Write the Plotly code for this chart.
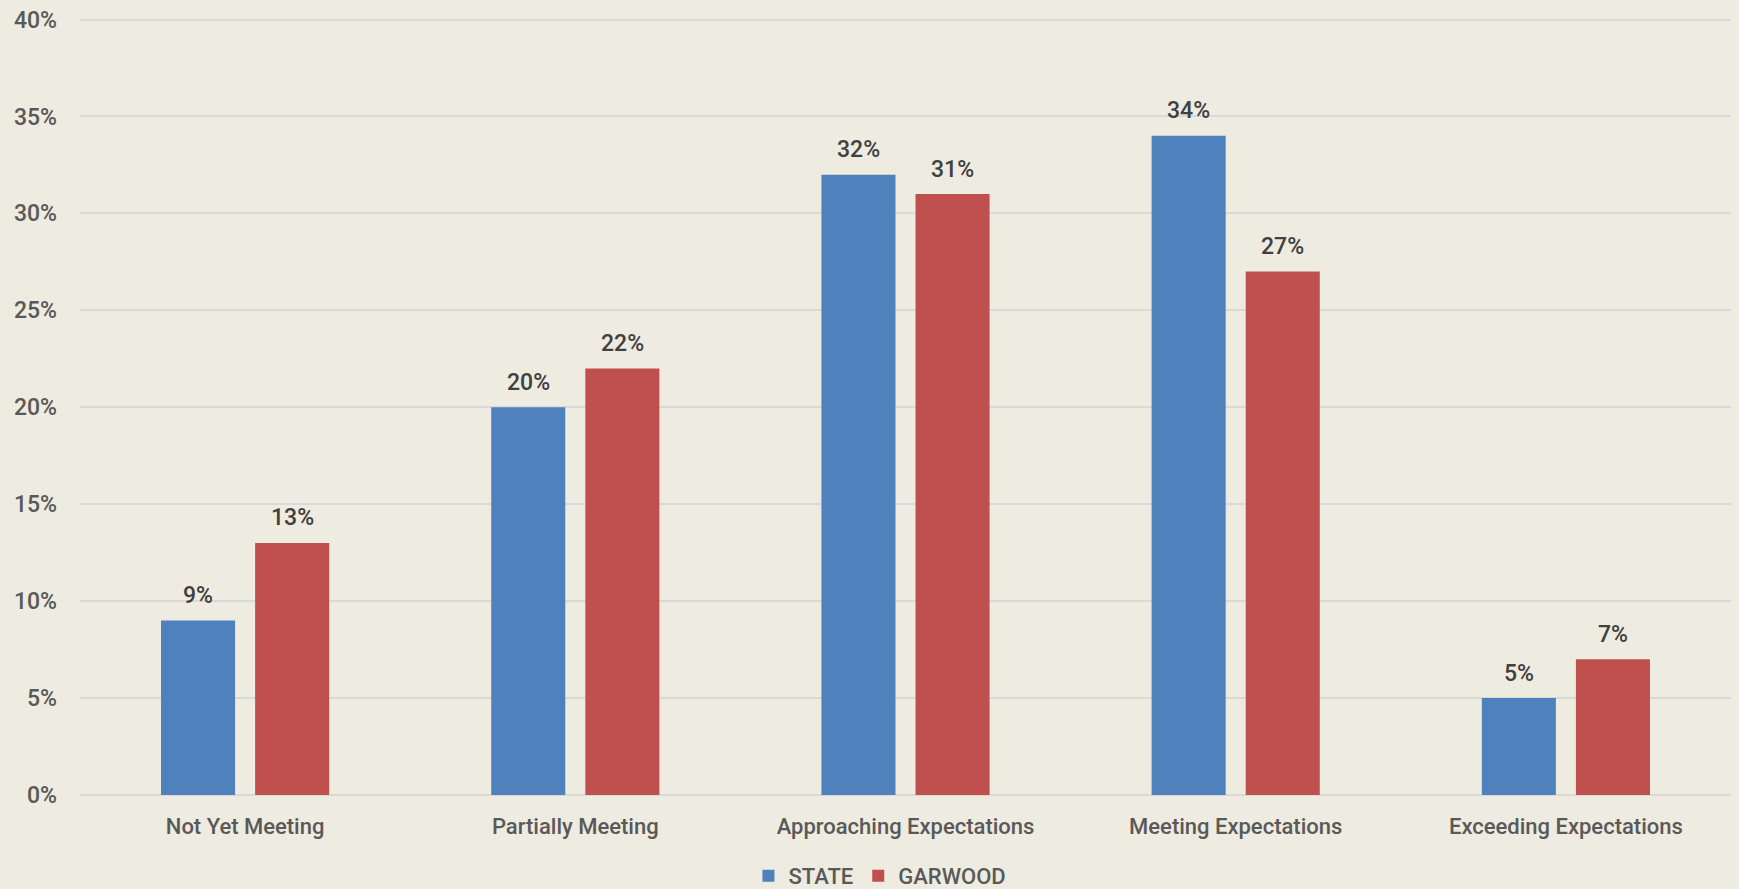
import plotly.graph_objects as go

categories = ["Not Yet Meeting", "Partially Meeting", "Approaching Expectations",
              "Meeting Expectations", "Exceeding Expectations"]
state_values = [0.09, 0.20, 0.32, 0.34, 0.05]
garwood_values = [0.13, 0.22, 0.31, 0.27, 0.07]
series_names = ["STATE", "GARWOOD"]
y_ticks = [0, 0.05, 0.10, 0.15, 0.20, 0.25, 0.30, 0.35, 0.40]

BG = "#EEEBE0"
BLUE = "#4F81BD"
RED = "#C0504D"
FONT = "Roboto, 'Liberation Sans', sans-serif"

fig = go.Figure()
fig.add_trace(go.Bar(x=categories, y=state_values, name=series_names[0],
                     marker=dict(color=BLUE, line=dict(width=0))))
fig.add_trace(go.Bar(x=categories, y=garwood_values, name=series_names[1],
                     marker=dict(color=RED, line=dict(width=0))))

annotations = []
for vals, shift in ((state_values, -47), (garwood_values, 47)):
    for c, v in zip(categories, vals):
        annotations.append(dict(x=c, y=v, xref="x", yref="y", text=f"{round(v*100)}%",
                                showarrow=False, xshift=shift, yshift=25,
                                font=dict(family=FONT, size=23, color="#404040", weight=500)))

fig.update_layout(
    width=1739, height=889,
    paper_bgcolor=BG, plot_bgcolor=BG,
    margin=dict(l=80, r=8, t=18, b=94, autoexpand=False),
    barmode="group", bargap=0.43, bargroupgap=0.213,
    font=dict(family=FONT, size=23, color="#595959"),
    annotations=annotations,
    showlegend=True,
    legend=dict(orientation="h", x=0.506, xanchor="center", xref="container",
                y=0.0146, yanchor="middle", yref="container",
                font=dict(family=FONT, size=22, color="#595959", weight=500),
                itemwidth=30, traceorder="normal", bgcolor="rgba(0,0,0,0)"),
    xaxis=dict(showgrid=False, showline=False, zeroline=False, ticks="",
               tickfont=dict(family=FONT, size=22, color="#595959", weight=500),
               ticklabelstandoff=16, automargin=False),
    yaxis=dict(range=[0, 0.4008], tickvals=y_ticks, tickformat=".0%",
               showgrid=True, gridcolor="#D9D9D9", gridwidth=2,
               zeroline=True, zerolinecolor="#D9D9D9", zerolinewidth=2,
               showline=False, ticks="", ticklabelstandoff=22, automargin=False,
               tickfont=dict(family=FONT, size=23, color="#595959", weight=500)),
)

fig.write_html("out.html", config={"displayModeBar": False})

with open("out.html", "r", encoding="utf-8") as f:
    html = f.read()
html = html.replace("<head>", "<head><style>html,body{margin:0;padding:0;overflow:hidden;background:%s;}</style>" % BG, 1)
with open("out.html", "w", encoding="utf-8") as f:
    f.write(html)
